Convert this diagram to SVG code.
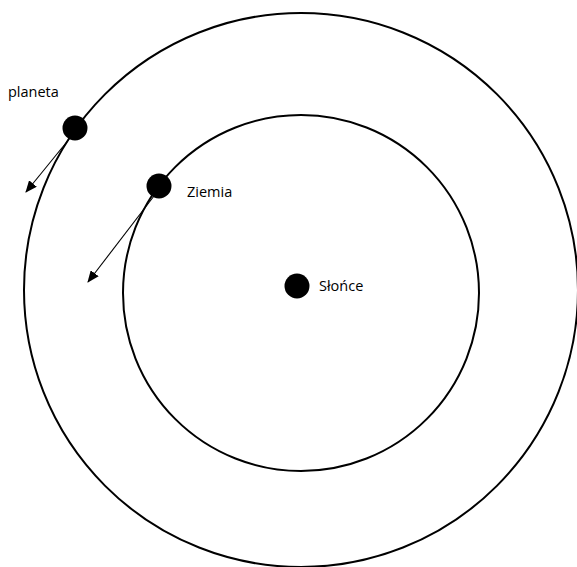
<svg xmlns="http://www.w3.org/2000/svg" width="577" height="567" viewBox="0 0 577 567">
<style>
.orbit{fill:none;stroke:#000;stroke-width:2}
.body{fill:#000}
.lbl{font-family:"Open Sans","Liberation Sans",sans-serif;font-size:14.5px;fill:#000}
.vec{stroke:#000;stroke-width:1.1;fill:none;marker-end:url(#ah)}
</style>
<defs>
<marker id="ah" viewBox="0 0 12 10" refX="11" refY="5" markerWidth="12" markerHeight="10" markerUnits="userSpaceOnUse" orient="auto">
<path d="M0,0 L12,5 L0,10 z" fill="#000"/>
</marker>
</defs>
<g id="orbits">
<circle class="orbit" cx="301" cy="290" r="277"/>
<circle class="orbit" cx="301" cy="293" r="178"/>
</g>
<g id="connectors">
<line class="vec" x1="70" y1="138" x2="26" y2="192"/>
<line class="vec" x1="154" y1="196" x2="88" y2="282"/>
</g>
<g id="sun">
<circle class="body" cx="297" cy="286" r="12.5"/>
<text class="lbl" x="319" y="291">Słońce</text>
</g>
<g id="earth">
<circle class="body" cx="159" cy="186" r="12.5"/>
<text class="lbl" x="187" y="197">Ziemia</text>
</g>
<g id="planet">
<circle class="body" cx="75" cy="128" r="12.5"/>
<text class="lbl" x="8" y="97">planeta</text>
</g>
</svg>
